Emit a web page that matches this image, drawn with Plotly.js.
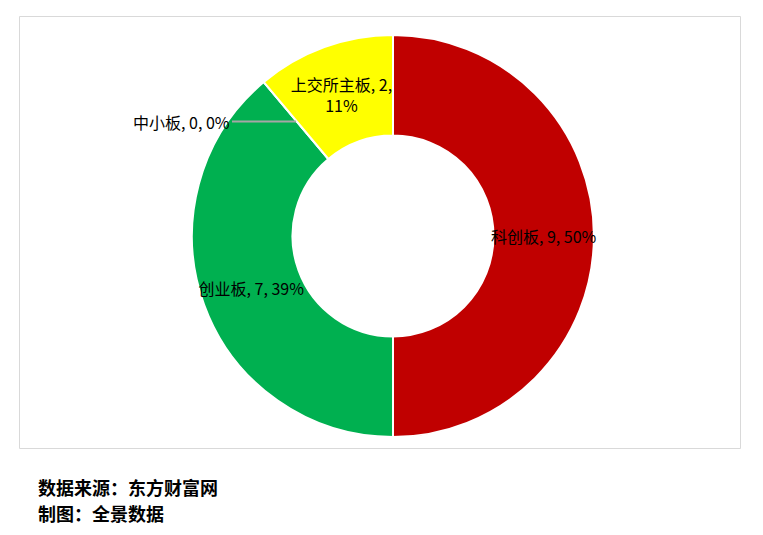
<!DOCTYPE html>
<html>
<head>
<meta charset="utf-8">
<script src="https://cdn.plot.ly/plotly-3.0.1.min.js"></script>
<style>
  html, body { margin: 0; padding: 0; background: #fff; }
  #chart { width: 763px; height: 535px; }
</style>
</head>
<body>
<div id="chart"></div>
<script>
// 板块分布（家数）
const boards = ['科创板', '创业板', '中小板', '上交所主板'];
const counts = [9, 7, 0, 2];
const colors = ['#C00000', '#00B050', '#A5A5A5', '#FFFF00'];
const labelTemplates = [
    '%{label}, %{value}, %{percent:.0%}',
    '%{label}, %{value}, %{percent:.0%}',
    '',
    '%{label}, %{value},<br>%{percent:.0%}'
];
const sourceLines = ['数据来源：东方财富网', '制图：全景数据'];

const W = 763, H = 535;
const cx = 393, cy = 236, R = 201;   // donut centre / radius in px
const HOLE = 0.5;
const FONT = '"Noto Sans CJK SC", sans-serif';

const total = counts.reduce((a, b) => a + b, 0);

// zero-size slice gets a callout label with a leader line, like Excel does
const zeroIdx = counts.indexOf(0);
const before = counts.slice(0, zeroIdx).reduce((a, b) => a + b, 0);
const ang = before / total * 2 * Math.PI;          // clockwise from 12 o'clock
const rMid = R * (1 + HOLE) / 2;
const tipX = cx + rMid * Math.sin(ang);
const tipY = cy - rMid * Math.cos(ang);

const trace = {
    type: 'pie',
    labels: boards,
    values: counts,
    sort: false,
    direction: 'clockwise',
    rotation: 0,
    hole: HOLE,
    marker: { colors: colors, line: { color: '#ffffff', width: 2 } },
    texttemplate: labelTemplates,
    textposition: counts.map(v => v === 0 ? 'none' : 'inside'),
    insidetextorientation: 'horizontal',
    textfont: { family: FONT, size: 16, color: '#000000' },
    domain: {
        x: [(cx - R) / W, (cx + R) / W],
        y: [(H - cy - R) / H, (H - cy + R) / H]
    },
    showlegend: false,
    hoverinfo: 'label+value+percent'
};

const annotations = sourceLines.map((t, i) => ({
    text: '<b>' + t + '</b>',
    xref: 'paper', yref: 'paper',
    x: 36 / W, y: 1 - (487 + i * 26) / H,
    xanchor: 'left', yanchor: 'middle',
    showarrow: false,
    font: { family: FONT, size: 18, color: '#000000' }
}));

annotations.push({
    text: boards[zeroIdx] + ', ' + counts[zeroIdx] + ', ' + Math.round(counts[zeroIdx] / total * 100) + '%',
    xref: 'paper', yref: 'paper',
    x: tipX / W, y: 1 - (tipY + 1) / H,
    ax: -(tipX - 232), ay: 0,
    xanchor: 'right', yanchor: 'middle',
    showarrow: true, arrowhead: 0, arrowwidth: 2, arrowcolor: '#A6A6A6',
    standoff: 0, startstandoff: 0,
    font: { family: FONT, size: 16, color: '#000000' }
});

const layout = {
    width: W,
    height: H,
    margin: { t: 0, r: 0, b: 0, l: 0 },
    paper_bgcolor: '#ffffff',
    showlegend: false,
    uniformtext: { minsize: 16, mode: 'show' },
    shapes: [{
        type: 'rect', xref: 'paper', yref: 'paper',
        x0: 19.5 / W, x1: 740.5 / W, y0: 1 - 448.5 / H, y1: 1 - 16.5 / H,
        line: { color: '#D9D9D9', width: 1 }
    }],
    annotations: annotations
};

Plotly.newPlot('chart', [trace], layout, { displayModeBar: false, staticPlot: true });
</script>
</body>
</html>
